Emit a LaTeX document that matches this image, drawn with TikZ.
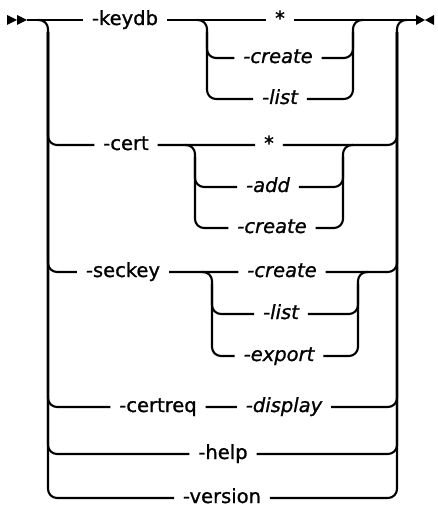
\documentclass[tikz,border=0pt]{standalone}
\usepackage{fontspec}
\setmainfont{DejaVu Sans}[FakeBold=1.1]

\begin{document}
\begin{tikzpicture}[x=1pt, y=-1pt, line width=2.1pt,
		track/.style={rounded corners=9pt},
		kw/.style={inner sep=0pt, outer xsep=9pt, outer ysep=0pt, text height=10pt, text depth=0pt, font=\fontsize{19.5}{22}\selectfont},
		opt/.style={kw, font=\fontsize{19.5}{22}\selectfont\itshape}]
		\useasboundingbox (0,0) rectangle (437,510);
		
		% keywords on the main choice
		\foreach \n/\x/\y/\t in {keydb/125/20/-keydb, cert/126/145/-cert, seckey/123/272/-seckey, certreq/158/407/-certreq, help/223/454/-help, version/222/498/-version}
		\node[kw] (\n) at (\x, \y) {\t};
		% options
		\foreach \n/\x/\y/\t in {kstar/280/20/*, kcreate/278/58/-create, klist/280/99/-list, cstar/269/145/*, cadd/268/187/-add, ccreate/272/228/-create, screate/282/272/-create, slist/281/314/-list, sexport/279/356/-export, display/284/407/-display}
		\node[opt] (\n) at (\x, \y) {\t};
		
		\coordinate (begin) at (27, 20);
		\coordinate (end) at (416, 20);
		\coordinate (busL) at (48, 20);
		\coordinate (busR) at (397, 20);
		\coordinate (kL) at (207, 20);
		\coordinate (kR) at (353, 20);
		\coordinate (cL) at (195, 145);
		\coordinate (cR) at (343, 145);
		\coordinate (sL) at (212, 272);
		\coordinate (sR) at (358, 272);
		
		% start and end marks
		\foreach \x in {7, 17}
		\fill (\x, 15) -- +(10, 5) -- +(0, 10) -- cycle;
		\fill (416, 15) -- (425, 20) -- (416, 25) -- cycle;
		\fill (434, 15) -- (425, 20) -- (434, 25) -- cycle;
		
		% main line
		\draw (begin) -- (keydb) -- (kstar) -- (end);
		
		% main choice
		\draw[track] (busL) ++(-10, 0) -- (busL) |- (version) -| (busR) -- ++(10, 0);
		\draw[track] ([yshift=-12pt]busL) |- (cert) -- (cstar) -| ([yshift=-12pt]busR);
		\draw[track] ([yshift=-12pt]busL) |- (seckey) -- (screate) -| ([yshift=-12pt]busR);
		\draw[track] ([yshift=-12pt]busL) |- (certreq) -- (display) -| ([yshift=-12pt]busR);
		\draw[track] ([yshift=-12pt]busL) |- (help) -| ([yshift=-12pt]busR);
		
		% keydb
		\draw[track] (kL) ++(-10, 0) -- (kL) |- (klist) -| (kR) -- ++(10, 0);
		\draw[track] ([yshift=-12pt]kL) |- (kcreate) -| ([yshift=-12pt]kR);
		
		% cert
		\draw[track] (cL) ++(-10, 0) -- (cL) |- (ccreate) -| (cR) -- ++(10, 0);
		\draw[track] ([yshift=-12pt]cL) |- (cadd) -| ([yshift=-12pt]cR);
		
		% seckey
		\draw[track] (sL) ++(-10, 0) -- (sL) |- (sexport) -| (sR) -- ++(10, 0);
		\draw[track] ([yshift=-12pt]sL) |- (slist) -| ([yshift=-12pt]sR);
		
\end{tikzpicture}
\end{document}
